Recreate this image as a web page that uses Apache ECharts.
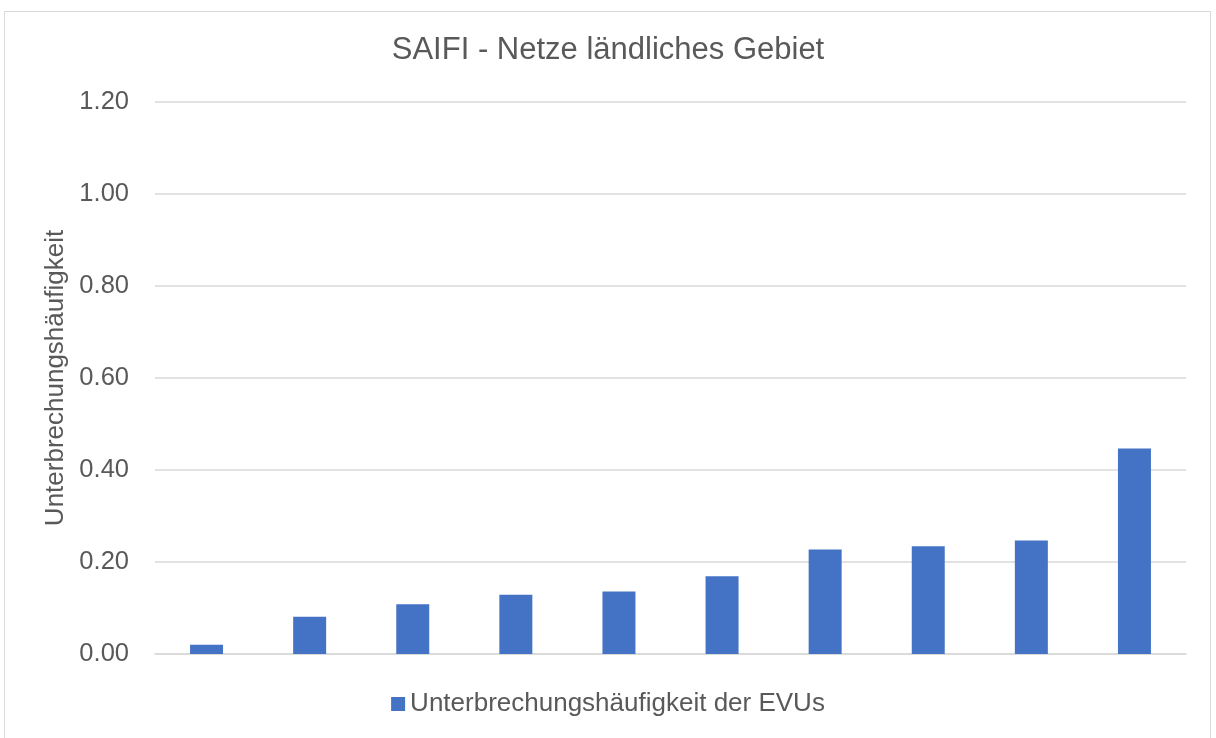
<!DOCTYPE html>
<html>
<head>
<meta charset="utf-8">
<script src="https://cdn.jsdelivr.net/npm/echarts@6/dist/echarts.min.js"></script>
<style>
  html, body { margin: 0; padding: 0; background: #fff; }
  #frame { position: absolute; left: 4px; top: 11px; width: 1207px; height: 740px;
           border: 1.5px solid #d9d9d9; box-sizing: border-box; }
  #main { position: absolute; left: 0; top: 0; width: 1216px; height: 738px; }
</style>
</head>
<body>
<div id="frame"></div>
<div id="main"></div>
<script>
// Netzbetreiber (Kategorien ohne Beschriftung im Original)
var categories = ['EVU 1', 'EVU 2', 'EVU 3', 'EVU 4', 'EVU 5', 'EVU 6', 'EVU 7', 'EVU 8', 'EVU 9', 'EVU 10'];
var saifi = [0.020, 0.081, 0.108, 0.129, 0.136, 0.169, 0.227, 0.234, 0.247, 0.447];
var seriesName = 'Unterbrechungshäufigkeit der EVUs';

var chart = echarts.init(document.getElementById('main'));
var font = 'Liberation Sans, Arial, sans-serif';

var option = {
  backgroundColor: 'transparent',
  animation: false,
  title: {
    text: 'SAIFI - Netze ländliches Gebiet',
    left: 'center',
    top: 30,
    textStyle: { fontFamily: font, fontSize: 31, fontWeight: 'normal', color: '#595959' }
  },
  legend: {
    bottom: 16,
    left: 'center',
    icon: 'rect',
    itemWidth: 14,
    itemHeight: 14,
    itemGap: 6,
    textStyle: { fontFamily: font, fontSize: 26, color: '#595959' },
    data: [seriesName]
  },
  grid: { left: 155, right: 30, top: 102, bottom: 84 },
  xAxis: {
    type: 'category',
    data: categories,
    axisLine: { lineStyle: { color: '#d9d9d9', width: 1.5 } },
    axisTick: { show: false },
    axisLabel: { show: false }
  },
  yAxis: {
    type: 'value',
    min: 0,
    max: 1.2,
    interval: 0.2,
    name: 'Unterbrechungshäufigkeit',
    nameLocation: 'middle',
    nameGap: 86,
    nameTextStyle: { fontFamily: font, fontSize: 26, color: '#595959' },
    axisLine: { show: false },
    axisTick: { show: false },
    axisLabel: {
      fontFamily: font, fontSize: 25.5, color: '#595959', margin: 26,
      formatter: function (v) { return v.toFixed(2); }
    },
    splitLine: { lineStyle: { color: '#d9d9d9', width: 1.5 } }
  },
  series: [{
    name: seriesName,
    type: 'bar',
    data: saifi,
    barWidth: '32%',
    itemStyle: { color: '#4472c4' }
  }]
};

chart.setOption(option);
</script>
</body>
</html>
